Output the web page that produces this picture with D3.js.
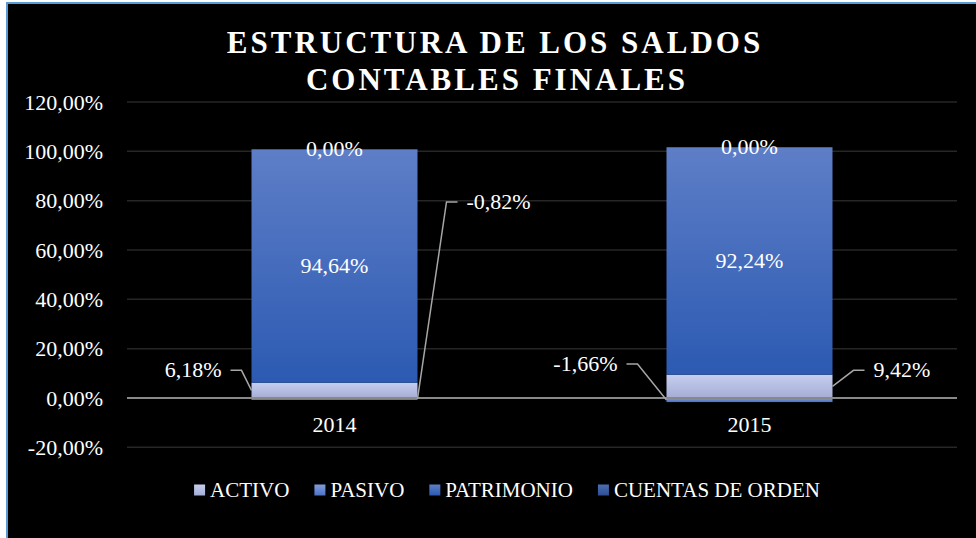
<!DOCTYPE html>
<html>
<head>
<meta charset="utf-8">
<script src="https://cdn.jsdelivr.net/npm/d3@7"></script>
<style>
  html, body { margin: 0; padding: 0; background: #fff; }
  svg { display: block; }
  text { font-family: "Liberation Serif", "Times New Roman", serif; fill: #fff; }
</style>
</head>
<body>
<div id="wrapper"></div>
<script>
// data (percent)
var years = ["2014", "2015"];
var seriesNames = ["ACTIVO", "PASIVO", "PATRIMONIO", "CUENTAS DE ORDEN"];
var activo = [6.18, 9.42];
var pasivo = [-0.82, -1.66];
var patrimonio = [94.64, 92.24];
var cuentasOrden = [0.00, 0.00];
var yTicks = [-20, 0, 20, 40, 60, 80, 100, 120];

var W = 976, H = 538;
// plot area
var plotLeft = 127, plotRight = 957, plotTop = 102, plotBottom = 447.3;

var svg = d3.select("#wrapper").append("svg")
    .attr("width", W)
    .attr("height", H);

// colours (top -> bottom of gradient)
var grads = {
  "ACTIVO": ["#c6ceee", "#a4add6"],
  "PASIVO": ["#819cdb", "#4d73c6"],
  "PATRIMONIO": ["#5e7ec7", "#2c5ab2"],
  "CUENTAS DE ORDEN": ["#4b6db2", "#2e4f94"]
};
var defs = svg.append("defs");
seriesNames.forEach(function (name, i) {
  var g = defs.append("linearGradient")
      .attr("id", "g" + i)
      .attr("x1", 0).attr("y1", 0).attr("x2", 0).attr("y2", 1);
  g.append("stop").attr("offset", "0%").attr("stop-color", grads[name][0]);
  g.append("stop").attr("offset", "100%").attr("stop-color", grads[name][1]);
});

// chart frame
svg.append("rect")
    .attr("x", 7).attr("y", 3)
    .attr("width", W + 20).attr("height", H + 20)
    .attr("fill", "#000")
    .attr("stroke", "#5b9bd5")
    .attr("stroke-width", 2);

// title
var title = svg.append("text")
    .attr("text-anchor", "middle")
    .style("font-size", "31px")
    .style("font-weight", "bold")
    .style("letter-spacing", "3px");
title.append("tspan").attr("x", 495).attr("y", 53).text("ESTRUCTURA DE LOS SALDOS");
title.append("tspan").attr("x", 497).attr("y", 90).text("CONTABLES FINALES");

// scales
var y = d3.scaleLinear().domain([-20, 120]).range([plotBottom, plotTop]);
var x = d3.scaleBand().domain(years).range([plotLeft, plotRight])
    .paddingInner(0.6).paddingOuter(0.3);

var fmt = function (v) {
  return d3.format(".2f")(v).replace(".", ",").replace("−", "-") + "%";
};

// gridlines
svg.append("g").selectAll("line")
    .data(yTicks.filter(function (d) { return d !== 0; }))
  .enter().append("line")
    .attr("x1", plotLeft).attr("x2", plotRight)
    .attr("y1", function (d) { return y(d); })
    .attr("y2", function (d) { return y(d); })
    .attr("stroke", "#262626")
    .attr("stroke-width", 1.5);

// y axis labels
var yAxis = svg.append("g")
    .attr("transform", "translate(" + (plotLeft - 24) + ",0)")
    .call(d3.axisLeft(y).tickValues(yTicks).tickSize(0).tickPadding(0).tickFormat(fmt));
yAxis.select(".domain").remove();
yAxis.selectAll("text")
    .attr("fill", "#fff")
    .style("font-family", "'Liberation Serif', serif")
    .style("font-size", "22px");

// stacked data
var table = years.map(function (yr, i) {
  return { year: yr, ACTIVO: activo[i], PASIVO: pasivo[i],
           PATRIMONIO: patrimonio[i], "CUENTAS DE ORDEN": cuentasOrden[i] };
});
var stacked = d3.stack().keys(seriesNames).offset(d3.stackOffsetDiverging)(table);

svg.append("g").selectAll("g")
    .data(stacked)
  .enter().append("g")
    .attr("fill", function (d, i) { return "url(#g" + i + ")"; })
  .selectAll("rect")
    .data(function (d) { return d; })
  .enter().append("rect")
    .attr("x", function (d) { return x(d.data.year); })
    .attr("width", x.bandwidth())
    .attr("y", function (d) { return y(Math.max(d[0], d[1])); })
    .attr("height", function (d) { return Math.abs(y(d[0]) - y(d[1])); });

// zero line
svg.append("line")
    .attr("x1", plotLeft).attr("x2", plotRight)
    .attr("y1", y(0)).attr("y2", y(0))
    .attr("stroke", "#898989")
    .attr("stroke-width", 2);

// x axis labels
var xAxis = svg.append("g")
    .attr("transform", "translate(0," + (y(0) + 18) + ")")
    .call(d3.axisBottom(x).tickSize(0).tickPadding(0));
xAxis.select(".domain").remove();
xAxis.selectAll("text")
    .attr("fill", "#fff")
    .style("font-family", "'Liberation Serif', serif")
    .style("font-size", "22px");

// top of the positive stack per year (zero segments sit there)
var posTop = function (row) {
  return d3.sum(seriesNames, function (k) { return Math.max(0, row[k]); });
};

// labels inside bars (PATRIMONIO, CUENTAS DE ORDEN)
var labelG = svg.append("g")
    .style("font-size", "22px");
[2, 3].forEach(function (k) {
  stacked[k].forEach(function (d) {
    var v = d.data[seriesNames[k]];
    var mid = v === 0 ? posTop(d.data) : (d[0] + d[1]) / 2;
    labelG.append("text")
        .attr("x", x(d.data.year) + x.bandwidth() / 2)
        .attr("y", y(mid))
        .attr("dy", "0.3em")
        .attr("text-anchor", "middle")
        .text(fmt(v));
  });
});

// outside labels with leader lines: side of bar and knee offset (px)
var leaders = {
  "ACTIVO-2014": { side: -1, dx: -10, dy: -20 },
  "PASIVO-2014": { side: 1, dx: 29, dy: -197 },
  "ACTIVO-2015": { side: 1, dx: 21, dy: -16 },
  "PASIVO-2015": { side: -1, dx: -29, dy: -36 }
};
[0, 1].forEach(function (k) {
  stacked[k].forEach(function (d) {
    var o = leaders[seriesNames[k] + "-" + d.data.year];
    var px = o.side < 0 ? x(d.data.year) : x(d.data.year) + x.bandwidth();
    var py = y((d[0] + d[1]) / 2);
    var kx = px + o.dx, ky = py + o.dy;
    var ex = kx + o.side * 11;
    svg.append("polyline")
        .attr("points", [[px, py], [kx, ky], [ex, ky]].join(" "))
        .attr("fill", "none")
        .attr("stroke", "#a6a6a6")
        .attr("stroke-width", 1.5);
    labelG.append("text")
        .attr("x", ex + o.side * 9)
        .attr("y", ky)
        .attr("dy", "0.32em")
        .attr("text-anchor", o.side < 0 ? "end" : "start")
        .text(fmt(d.data[seriesNames[k]]));
  });
});

// legend
var legend = svg.append("g")
    .attr("transform", "translate(0,490)")
    .style("font-size", "21px");
var items = legend.selectAll("g")
    .data(seriesNames)
  .enter().append("g");
items.append("rect")
    .attr("y", -5.5).attr("width", 11).attr("height", 11)
    .attr("fill", function (d, i) { return "url(#g" + i + ")"; });
items.append("text")
    .attr("x", 16)
    .attr("dy", "0.35em")
    .text(function (d) { return d; });
var pos = 0, offsets = [];
items.each(function () {
  offsets.push(pos);
  pos += 16 + d3.select(this).select("text").node().getComputedTextLength() + 25;
});
var total = pos - 25;
var start = 507 - total / 2;
items.attr("transform", function (d, i) { return "translate(" + (start + offsets[i]) + ",0)"; });
</script>
</body>
</html>
